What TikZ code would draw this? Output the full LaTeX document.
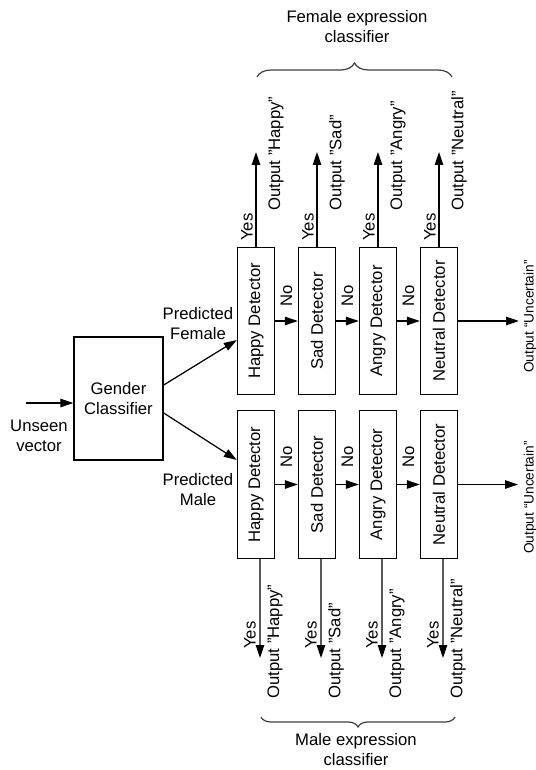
\documentclass[tikz,border=0pt]{standalone}
\usepackage{fontspec}
\setmainfont{Liberation Sans}
\usetikzlibrary{arrows.meta,decorations.pathreplacing}

\tikzset{
  box/.style={draw, line width=0.8pt, inner sep=0pt, align=center},
  detector/.style={box, minimum width=0.74cm, minimum height=2.95cm},
  arr/.style={line width=0.7pt, -{Triangle[length=0.26cm,width=0.17cm]}},
  lbl/.style={inner sep=0pt, align=center},
  bracket/.style={draw=black!75, line width=0.7pt, decorate},
}
\newcommand{\vtext}[1]{\rotatebox{90}{#1}}

\begin{document}
\begin{tikzpicture}[x=0.02cm, y=-0.02cm, font=\fontsize{9.5}{11.4}\selectfont]
  \useasboundingbox (0,0) rectangle (536,770);

  % Input and gender classifier
  \node[box, minimum width=1.78cm, minimum height=2.46cm] (gender) at (118.5,398.5) {Gender\\Classifier};
  \coordinate (in) at (26,403);
  \draw[arr] (in) -- (in -| gender.west);
  \node[lbl] (unseen) at (39,435.5) {Unseen\\vector};

  % Detector chains
  \foreach \name/\x [count=\i] in {Happy/256, Sad/317, Angry/378, Neutral/439}{
    \node[detector] (f\i) at (\x,321) {\vtext{\name{} Detector}};
    \node[detector] (m\i) at (\x,484.5) {\vtext{\name{} Detector}};
    % female outputs
    \coordinate (ft\i) at (\x,152);
    \draw[arr] (f\i.north) -- (ft\i);
    \node[lbl] (fyes\i) at (\x-9,227) {\vtext{Yes}};
    \node[lbl, anchor=south west] (fout\i) at (\x+12,211) {\vtext{Output "\name"}};
    % male outputs
    \coordinate (mt\i) at (\x+4,658);
    \draw[arr] ([xshift=0.08cm]m\i.south) -- (mt\i);
    \node[lbl] (myes\i) at (\x-6,635) {\vtext{Yes}};
    \node[lbl, anchor=south west] (mout\i) at (\x+11,699) {\vtext{Output "\name"}};
  }
  \foreach \i/\j in {1/2, 2/3, 3/4}{
    \draw[arr] (f\i) -- node[lbl, above=0.28cm] {\vtext{No}} (f\j);
    \draw[arr] (m\i) -- node[lbl, above=0.32cm] {\vtext{No}} (m\j);
  }

  % Gender branches
  \draw[arr] ([yshift=0.27cm]gender.east) -- ([yshift=-0.38cm]f1.west);
  \draw[arr] ([yshift=-0.29cm]gender.east) -- ([yshift=0.49cm]m1.west);
  \node[lbl] (predf) at (198,323.5) {Predicted\\Female};
  \node[lbl] (predm) at (198,490) {Predicted\\Male};

  % Uncertain outputs
  \coordinate (fu) at (519,321);
  \coordinate (mu) at (518,484.5);
  \draw[arr] (f4) -- (fu);
  \draw[arr] (m4) -- (mu);
  \node[lbl, font=\fontsize{7.8}{9}\selectfont] (func) at (530,316.5) {\vtext{Output “Uncertain”}};
  \node[lbl, font=\fontsize{7.8}{9}\selectfont] (munc) at (530,497.5) {\vtext{Output “Uncertain”}};

  % Braces
  \draw[bracket, decoration={brace, amplitude=0.28cm}] (257,77) -- (452,77);
  \node[lbl] (ftitle) at (357,27) {Female expression\\classifier};
  \draw[bracket, decoration={brace, amplitude=0.2cm}] (455,717) -- (261,717);
  \node[lbl] (mtitle) at (356,750) {Male expression\\classifier};
\end{tikzpicture}
\end{document}
